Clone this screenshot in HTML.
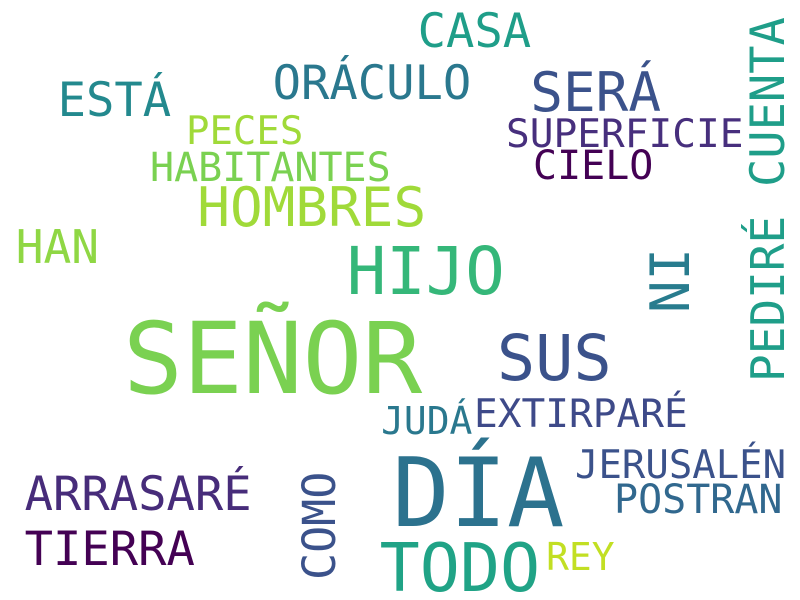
<!DOCTYPE html>
<html><head><meta charset="utf-8"><style>
html,body{margin:0;padding:0;background:#fff}
#c{position:relative;width:800px;height:600px;overflow:hidden;background:#fff}
#c span{position:absolute;white-space:nowrap;line-height:1;font-family:"DejaVu Sans Mono","Liberation Mono",monospace}
</style></head><body>
<div id="c"></div>
<script>
const words=["CASA","ORÁCULO","SERÁ","ESTÁ","PECES","SUPERFICIE","CIELO","HABITANTES","HOMBRES","HAN","HIJO","SEÑOR","SUS","NI","CUENTA","PEDIRÉ","JUDÁ","EXTIRPARÉ","JERUSALÉN","POSTRAN","DÍA","ARRASARÉ","TIERRA","COMO","TODO","REY"];
const sizes=[46,46,53,46,38,38.5,39,39,53,45,64,97,62,54,47,46,37,38.5,38,39,93,46,46,45,65,37];
const xs=[420,275,533,60,188,508,535,152,200,18,350,128,500,650,750,750,383,476,577,616,397,27,27,302,383,548];
const ys=[12,64,70,81,116,118,150,152,185,228,245,318,332,310,185,380,406,398,450,484,455,475,530,578,540,542];
const vert=[0,0,0,0,0,0,0,0,0,0,0,0,0,1,1,1,0,0,0,0,0,0,0,1,0,0];
const colors=["#1f9e89","#2a788e","#3b528b","#23898e","#a0da39","#472f7d","#440154","#7ad151","#a0da39","#8fd744","#35b779","#7ad151","#3b528b","#287c8e","#1f9e89","#1f9e89","#2a788e","#3e4a89","#3b528b","#31688e","#2c728e","#472c7a","#440154","#3b528b","#20a386","#c2df23"];
const c=document.getElementById('c');
words.forEach((w,i)=>{
  const s=document.createElement('span');
  
  
  s.textContent=w;
  s.style.color=colors[i];
  if(vert[i]){
    const fs=sizes[i];
    s.style.fontSize=fs+'px';
    s.style.transformOrigin='0 0';
    s.style.transform='rotate(-90deg)';
    s.style.left=(xs[i]-0.117*fs)+'px';
    s.style.top=(ys[i]+0.05*fs)+'px';
  }else{
    const fs=sizes[i]*1.025;
    s.style.fontSize=fs+'px';
    s.style.left=(xs[i]-0.05*fs)+'px';
    s.style.top=(ys[i]-0.08*fs)+'px';
  }
  c.appendChild(s);
});
</script>
</body></html>
